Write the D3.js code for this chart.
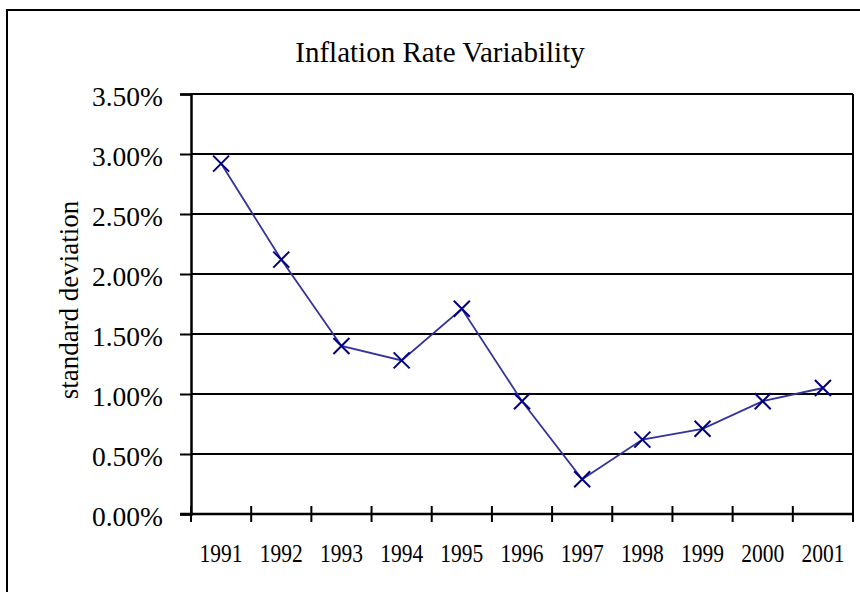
<!DOCTYPE html>
<html>
<head>
<meta charset="utf-8">
<script src="https://cdn.jsdelivr.net/npm/d3@7"></script>
<style>
  html, body { margin: 0; padding: 0; background: #fff; }
  svg { display: block; }
  text { font-family: "Liberation Serif", "Times New Roman", serif; fill: #000; }
</style>
</head>
<body>
<svg id="chart" width="860" height="592"></svg>
<script>
const years = ["1991","1992","1993","1994","1995","1996","1997","1998","1999","2000","2001"];
const stdDev = [0.0292, 0.0212, 0.0140, 0.0128, 0.0171, 0.0094, 0.0029, 0.0062, 0.0071, 0.0094, 0.0105];
const yTicks = [0, 0.005, 0.01, 0.015, 0.02, 0.025, 0.03, 0.035];
const titleText = "Inflation Rate Variability";
const yTitleText = "standard deviation";

const svg = d3.select("#chart");
const pLeft = 191, pRight = 853, pTop = 94, pBottom = 514;

// outer frame
svg.append("rect").attr("x", 7).attr("y", 10).attr("width", 880).attr("height", 620)
  .attr("fill", "#fff").attr("stroke", "#000").attr("stroke-width", 2);

const x = d3.scaleBand().domain(years).range([pLeft, pRight]).paddingInner(0).paddingOuter(0);
const y = d3.scaleLinear().domain([0, 0.035]).range([pBottom, pTop]);

// gridlines
svg.append("g").selectAll("line").data(yTicks.filter(d => d > 0)).join("line")
  .attr("x1", pLeft).attr("x2", pRight)
  .attr("y1", d => y(d)).attr("y2", d => y(d))
  .attr("stroke", "#000").attr("stroke-width", 2);

// right border
svg.append("line").attr("x1", pRight).attr("x2", pRight).attr("y1", pTop).attr("y2", pBottom)
  .attr("stroke", "#000").attr("stroke-width", 2);

// y axis
const yAxis = d3.axisLeft(y).tickValues(yTicks).tickFormat(d3.format(".2%")).tickSize(11).tickPadding(17);
const gy = svg.append("g").attr("transform", `translate(${pLeft},0)`).call(yAxis);
gy.select(".domain").attr("stroke", "#000").attr("stroke-width", 2.5);
gy.selectAll(".tick line").attr("stroke", "#000").attr("stroke-width", 2);
gy.selectAll(".tick text").attr("font-size", 27.5).attr("font-family", "Liberation Serif")
  .attr("dy", "0.42em");

// x axis
const gx = svg.append("g").attr("transform", `translate(0,${pBottom})`);
gx.append("line").attr("x1", pLeft - 11).attr("x2", pRight).attr("y1", 0).attr("y2", 0)
  .attr("stroke", "#000").attr("stroke-width", 2.5);
const boundaries = years.map(d => x(d)).concat([x(years[years.length - 1]) + x.bandwidth()]);
gx.selectAll("line.tk").data(boundaries).join("line").attr("class", "tk")
  .attr("x1", d => d).attr("x2", d => d).attr("y1", -8).attr("y2", 8)
  .attr("stroke", "#000").attr("stroke-width", 2);
gx.selectAll("text").data(years).join("text")
  .attr("transform", d => `translate(${x(d) + x.bandwidth() / 2},48) scale(0.86,1)`)
  .attr("text-anchor", "middle").attr("font-size", 25).text(d => d);

// line
const line = d3.line().x((d, i) => x(years[i]) + x.bandwidth() / 2).y(d => y(d));
svg.append("path").datum(stdDev).attr("d", line).attr("fill", "none")
  .attr("stroke", "#333399").attr("stroke-width", 1.8);

// X markers
const s = 8;
const mk = svg.append("g").selectAll("g").data(stdDev).join("g")
  .attr("transform", (d, i) => `translate(${x(years[i]) + x.bandwidth() / 2},${y(d)})`);
mk.append("path").attr("d", `M${-s},${-s}L${s},${s}M${-s},${s}L${s},${-s}`)
  .attr("stroke", "#000080").attr("stroke-width", 2).attr("fill", "none");

// title
svg.append("text").attr("x", 440).attr("y", 62).attr("text-anchor", "middle")
  .attr("font-size", 29).text(titleText);

// y title
svg.append("text").attr("transform", "translate(78,300) rotate(-90)")
  .attr("text-anchor", "middle").attr("font-size", 27).text(yTitleText);
</script>
</body>
</html>
